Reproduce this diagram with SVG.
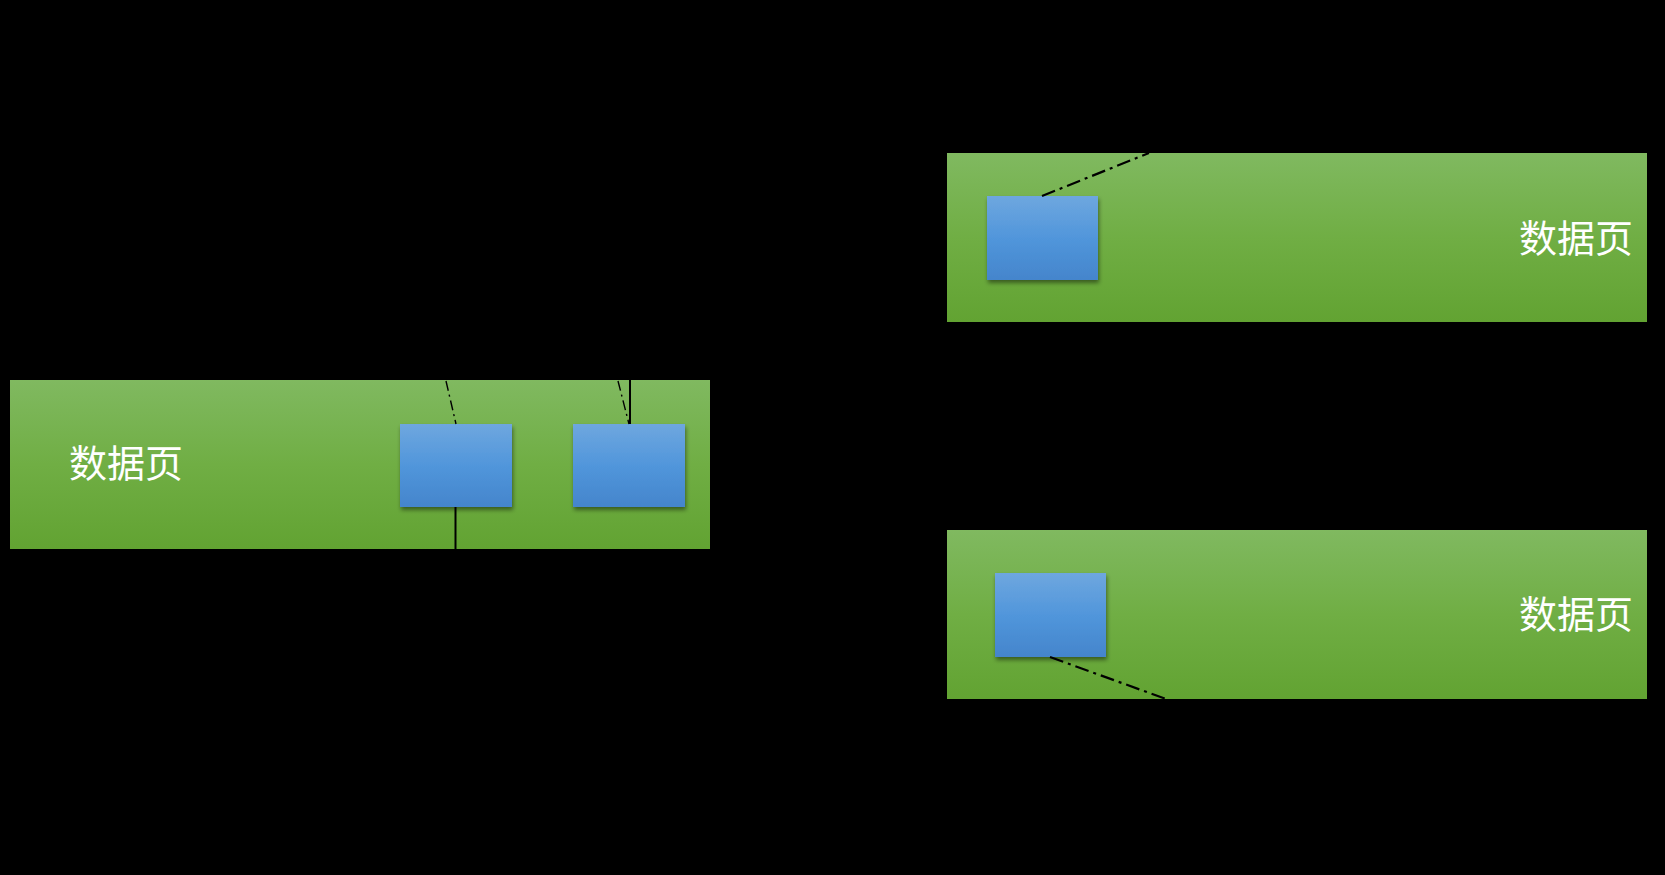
<svg xmlns="http://www.w3.org/2000/svg" width="1665" height="875" viewBox="0 0 1665 875">
<style>
.page{fill:url(#gGreen);}
.blk{fill:url(#gBlue);filter:url(#sh);}
.lbl{font-family:"Noto Sans CJK SC","Noto Sans",sans-serif;font-size:38px;font-weight:400;fill:#ffffff;}
.solid{stroke:#000;stroke-width:2;fill:none;}
.dd{stroke:#000;stroke-width:2.2;fill:none;stroke-dasharray:14 5 3 5;}
.ddt{stroke:#000;stroke-width:1.4;fill:none;stroke-dasharray:10 4 2 4;}
</style>
<defs>
<linearGradient id="gGreen" x1="0" y1="0" x2="0" y2="1">
<stop offset="0" stop-color="#80b960"/>
<stop offset="0.5" stop-color="#70ae44"/>
<stop offset="1" stop-color="#62a332"/>
</linearGradient>
<linearGradient id="gBlue" x1="0" y1="0" x2="0" y2="1">
<stop offset="0" stop-color="#6ea7df"/>
<stop offset="0.5" stop-color="#5196db"/>
<stop offset="1" stop-color="#4485cc"/>
</linearGradient>
<filter id="sh" x="-20%" y="-20%" width="140%" height="150%">
<feDropShadow dx="1" dy="3" stdDeviation="2" flood-color="#000" flood-opacity="0.45"/>
</filter>
</defs>
<rect x="0" y="0" width="1665" height="875" fill="#000"/>

<g id="page-left">
<rect class="page" x="10" y="380" width="700" height="169"/>
<text class="lbl" x="69" y="477">数据页</text>
</g>
<g id="block-left-1">
<rect class="blk" x="400" y="424" width="112" height="83"/>
</g>
<g id="block-left-2">
<rect class="blk" x="573" y="424" width="112" height="83"/>
</g>

<g id="page-top-right">
<rect class="page" x="947" y="153" width="700" height="169"/>
<text class="lbl" x="1633" y="252" text-anchor="end">数据页</text>
</g>
<g id="block-top-right">
<rect class="blk" x="987" y="196" width="111" height="84"/>
</g>

<g id="page-bottom-right">
<rect class="page" x="947" y="530" width="700" height="169"/>
<text class="lbl" x="1633" y="628" text-anchor="end">数据页</text>
</g>
<g id="block-bottom-right">
<rect class="blk" x="995" y="573" width="111" height="84"/>
</g>

<g id="connectors">
<line class="ddt" x1="446" y1="381" x2="456" y2="424"/>
<line class="solid" x1="455.5" y1="507" x2="455.5" y2="549"/>
<line class="ddt" x1="618" y1="381" x2="629" y2="424"/>
<line class="solid" x1="630" y1="380" x2="630" y2="424"/>
<line class="dd" x1="1042" y1="196" x2="1149" y2="153"/>
<line class="dd" x1="1050" y1="657" x2="1166" y2="699"/>
</g>
</svg>
